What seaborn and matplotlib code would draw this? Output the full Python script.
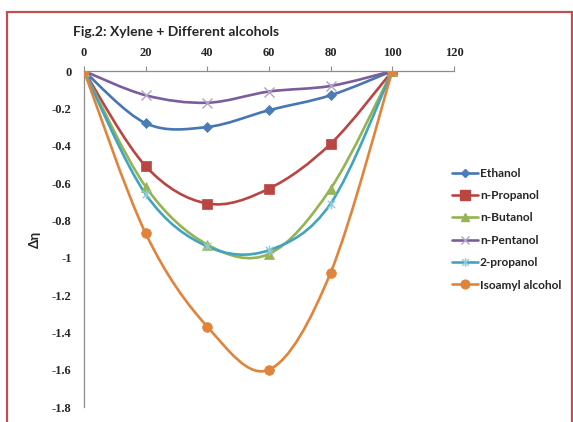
import numpy as np
import seaborn as sns
import matplotlib.pyplot as plt
from matplotlib.path import Path
from matplotlib.patches import PathPatch, Rectangle
from matplotlib.lines import Line2D

x_frac = [0, 20, 40, 60, 80, 100]
ethanol = [0, -0.28, -0.30, -0.21, -0.13, 0]
n_propanol = [0, -0.51, -0.71, -0.63, -0.39, 0]
n_butanol = [0, -0.62, -0.93, -0.98, -0.63, 0]
n_pentanol = [0, -0.13, -0.17, -0.11, -0.08, 0]
propanol_2 = [0, -0.66, -0.94, -0.96, -0.71, 0]
isoamyl = [0, -0.87, -1.37, -1.60, -1.08, 0]

names = ["Ethanol", "n-Propanol", "n-Butanol", "n-Pentanol", "2-propanol", "Isoamyl alcohol"]
series = [ethanol, n_propanol, n_butanol, n_pentanol, propanol_2, isoamyl]
line_colors = ["#4676B4", "#B94643", "#93B452", "#7A5D9C", "#43A4BF", "#E0843C"]
mark_colors = ["#4A7CB8", "#B94643", "#96B656", "#B3A2C7", "#8FCADB", "#E0843C"]

# excel style star: x with a vertical bar
star = Path([(-1, -1), (1, 1), (-1, 1), (1, -1), (0, -1.3), (0, 1.3)],
            [Path.MOVETO, Path.LINETO, Path.MOVETO, Path.LINETO, Path.MOVETO, Path.LINETO])
markers = ["D", "s", "^", "x", star, "o"]
msizes = [5, 7.5, 7, 7, 7, 7]


def smooth_path(xs, ys):
    # excel-like smoothed line: cubic bezier through the points
    p = np.column_stack([xs, ys]).astype(float)
    n = len(p)
    verts = [tuple(p[0])]
    codes = [Path.MOVETO]
    for i in range(n - 1):
        prev = p[max(i - 1, 0)]
        nxt = p[min(i + 2, n - 1)]
        c1 = p[i] + (p[i + 1] - prev) / 6
        c2 = p[i + 1] - (nxt - p[i]) / 6
        verts += [tuple(c1), tuple(c2), tuple(p[i + 1])]
        codes += [Path.CURVE4] * 3
    return Path(verts, codes)


sns.set_style("white")
plt.rcParams['font.family'] = ['Lato', 'DejaVu Sans']

fig = plt.figure(figsize=(5.73, 4.22), dpi=100)
ax = fig.add_axes([84 / 573, 1 - 407 / 422, 370 / 573, 336 / 422])

for name, ys, lc, mc, mk, ms in zip(names, series, line_colors, mark_colors, markers, msizes):
    ax.add_patch(PathPatch(smooth_path(x_frac, ys), fill=False, edgecolor=lc, lw=1.9, zorder=2))
    mew = 1.0 if mk in ("x", star) else 0.5
    sns.lineplot(x=x_frac, y=ys, ax=ax, marker=mk, markersize=ms, linestyle="",
                 color=mc, markeredgecolor=mc, markeredgewidth=mew, zorder=3)

ax.set_xlim(0, 120)
ax.set_ylim(-1.8, 0)
ax.set_xticks(range(0, 121, 20))
ax.set_yticks(np.arange(-1.8, 0.01, 0.2))
ax.set_yticklabels(["-1.8", "-1.6", "-1.4", "-1.2", "-1", "-0.8", "-0.6", "-0.4", "-0.2", "0"])
ax.xaxis.tick_top()
for s in ["right", "bottom"]:
    ax.spines[s].set_visible(False)
for s in ["left", "top"]:
    ax.spines[s].set_color("#8C8C8C")
    ax.spines[s].set_linewidth(0.9)
ax.tick_params(axis="both", direction="out", length=3.5, width=0.8, color="#8C8C8C",
               labelsize=9)
ax.tick_params(axis="y", pad=5.5)
ax.tick_params(axis="x", pad=5)
for lab in ax.get_xticklabels() + ax.get_yticklabels():
    lab.set_family(["Liberation Serif", "DejaVu Serif"])
    lab.set_fontweight("bold")
ax.xaxis.set_tick_params(which="both", top=True, bottom=False)
ax.set_ylabel("Δη", fontsize=9.5, fontweight="bold", labelpad=8)

fig.text(73 / 573, 1 - 32 / 422, "Fig.2: Xylene + Different alcohols", fontsize=10,
         fontweight="bold", va="center", ha="left")

handles = [Line2D([0], [0], color=lc, lw=1.9, marker=mk, markersize=ms * 0.9,
                  markerfacecolor=mc, markeredgecolor=mc)
           for lc, mc, mk, ms in zip(line_colors, mark_colors, markers, msizes)]
fig.legend(handles, names, loc="upper left", bbox_to_anchor=(447 / 573, 1 - 163 / 422),
           frameon=False, prop={"size": 8.6, "weight": "bold"}, labelspacing=0.95,
           handlelength=2.2, handletextpad=0.15, borderaxespad=0)

# chart area border
fig.patches.append(Rectangle((7 / 573, -0.05), 565 / 573, 1 - 12 / 422 + 0.05,
                             transform=fig.transFigure, fill=False,
                             edgecolor="#C0504D", lw=1.6))

fig.savefig("out.png", dpi=100)
